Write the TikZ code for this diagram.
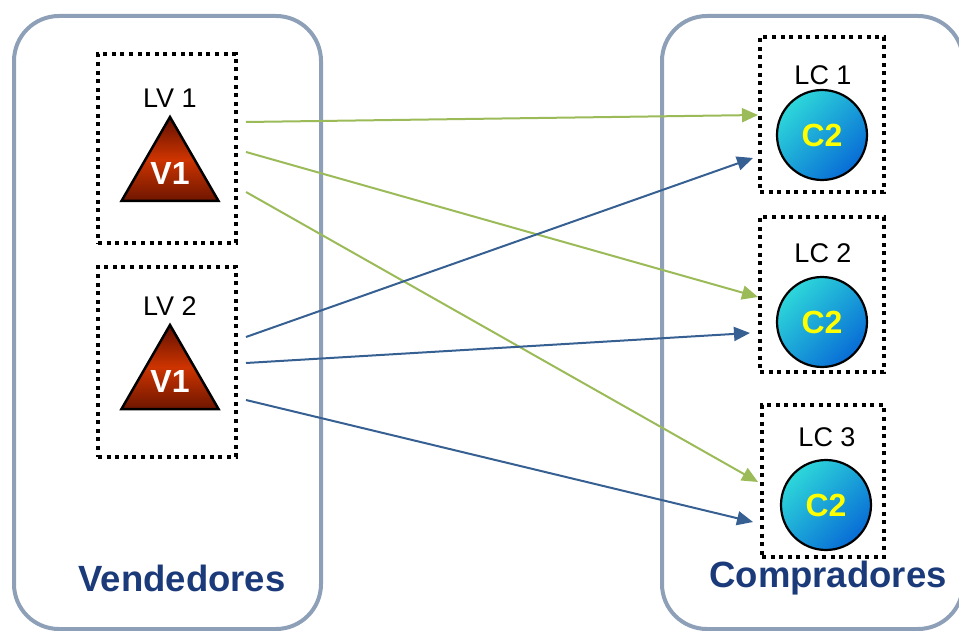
\documentclass[tikz,border=0pt]{standalone}
\usepackage{fontspec}
\setmainfont{Liberation Sans}
\usetikzlibrary{shapes.geometric,arrows.meta,calc}
\definecolor{frameC}{RGB}{142,160,184}
\definecolor{titleC}{RGB}{27,58,122}
\definecolor{greenA}{RGB}{155,187,89}
\definecolor{blueA}{RGB}{55,96,146}
\definecolor{triTop}{RGB}{95,15,0}
\definecolor{triBot}{RGB}{110,22,0}
\definecolor{triMid}{RGB}{205,52,0}
\definecolor{cyanC}{RGB}{45,215,218}
\definecolor{blueC}{RGB}{8,108,214}
\definecolor{yellowT}{RGB}{255,255,0}
\tikzset{
  container/.style={draw=frameC, line width=4pt, rounded corners=45pt},
  dotbox/.style={draw=black, line width=4pt, dash pattern=on 4pt off 4.6pt, rectangle, inner sep=0pt},
  lbl/.style={font=\fontsize{27}{32}\selectfont, text=black, inner sep=0pt},
  title/.style={font=\fontsize{36.5}{42}\selectfont\bfseries, text=titleC, inner sep=0pt},
  vtri/.style={regular polygon, regular polygon sides=3, minimum size=112pt, inner sep=0pt,
    draw=black, line width=2.5pt, top color=triTop, bottom color=triBot, middle color=triMid,
    font=\fontsize{32}{36}\selectfont\bfseries, text=white},
  cball/.style={circle, minimum size=90pt, inner sep=0pt, draw=black, line width=2.2pt,
    top color=cyanC, bottom color=blueC, shading angle=45,
    font=\fontsize{32}{36}\selectfont\bfseries, text=yellowT},
  ga/.style={draw=greenA, line width=2pt, -{Triangle[length=16pt,width=14pt]}},
  ba/.style={draw=blueA, line width=2pt, -{Triangle[length=16pt,width=14pt]}},
}
\begin{document}
\begin{tikzpicture}[x=1pt,y=-1pt]
\useasboundingbox (0,0) rectangle (959,631);
% containers
\draw[container] (14,16) rectangle (321,629);
\draw[container] (662,16) rectangle (963,629);
% seller boxes
\node[dotbox, minimum width=138pt, minimum height=189pt] (lv1) at (167,148.5) {};
\node[dotbox, minimum width=138pt, minimum height=190pt] (lv2) at (167,362) {};
\node[lbl] (lv1l) at (170,98) {LV 1};
\node[lbl] (lv2l) at (170,306) {LV 2};
\node[vtri] (t1) at (170,173) {V1};
\node[vtri] (t2) at (170,381) {V1};
% buyer boxes
\node[dotbox, minimum width=124pt, minimum height=155pt] (lc1) at (822,114.5) {};
\node[dotbox, minimum width=124pt, minimum height=155pt] (lc2) at (822,294.5) {};
\node[dotbox, minimum width=122pt, minimum height=152pt] (lc3) at (823,481) {};
\node[lbl] (lc1l) at (823,75) {LC 1};
\node[lbl] (lc2l) at (823,253) {LC 2};
\node[lbl] (lc3l) at (827,437) {LC 3};
\node[cball] (c1) at (822,135) {C2};
\node[cball] (c2) at (822,322) {C2};
\node[cball] (c3) at (826,505) {C2};
% titles
\node[title] (vend) at (182,578) {Vendedores};
\node[title] (comp) at (828,578) {Compradores};
% green arrows
\draw[ga] ($(lv1.east)+(8,-26.5)$) -- ($(lc1.west)+(0,0.5)$);
\draw[ga] ($(lv1.east)+(8,3.5)$) -- ($(lc2.west)+(0,2.5)$);
\draw[ga] ($(lv1.east)+(8,43.5)$) -- ($(lc3.west)+(-2,1)$);
% blue arrows
\draw[ba] ($(lv2.east)+(8,-25)$) -- ($(lc1.west)+(-5,43.5)$);
\draw[ba] ($(lv2.east)+(8,1)$) -- ($(lc2.west)+(-8,38.5)$);
\draw[ba] ($(lv2.east)+(8,38)$) -- ($(lc3.west)+(-7,41)$);
\end{tikzpicture}
\end{document}
